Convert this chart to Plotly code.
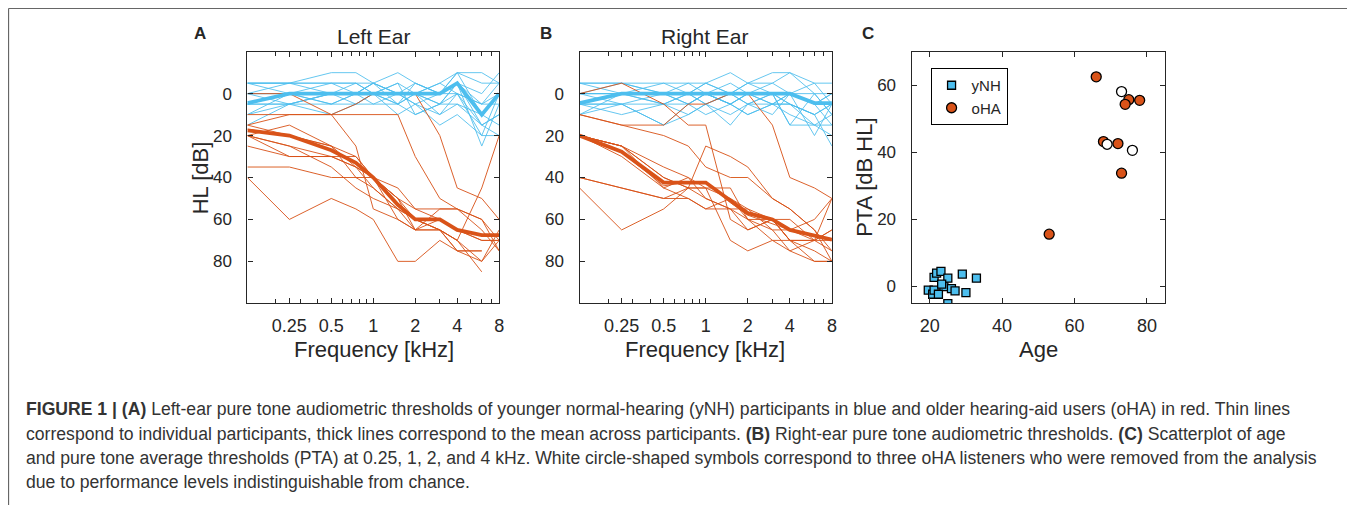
import math
import plotly.graph_objects as go

# page offset (browser body margin) compensation
OX, OY = 8, 8
W, H = 1355 - OX, 505 - OY

# ---------------- data ----------------
freqs = [0.125, 0.25, 0.5, 0.75, 1, 1.5, 2, 3, 4, 6, 8]

left_ynh = [
    [-5, -5, -10, -10, -5, 0, 0, -5, -10, -5, -5],
    [0, 0, 0, 0, -5, -10, -5, 0, -5, 0, -10],
    [5, 0, -5, -5, 0, -5, 0, 5, -5, 10, 0],
    [-5, -5, 0, 0, 0, 5, -5, 0, 0, 15, 10],
    [0, -5, -5, -5, 0, 0, 5, 10, 0, 20, 20],
    [5, 5, 5, 0, 0, 5, 0, 0, -5, 25, 5],
    [15, 5, 0, 0, -5, 0, 5, 15, 10, 20, 0],
    [10, 5, 10, 5, 0, 0, 0, 5, 5, 10, 15],
    [0, 0, 0, 0, 5, 0, -5, 0, -10, -10, -5],
    [-5, 0, 5, 0, -5, 5, 10, 5, 0, 5, 0],
    [5, 0, 0, 5, 0, 10, 5, 0, -5, 15, 10],
    [0, 5, 0, 0, 0, 0, 0, -5, 0, 5, 5],
    [10, 0, 5, 5, 5, 5, 0, 10, 5, 15, 20],
    [-5, -5, -5, 0, 0, -5, 10, 5, -5, 5, -5],
    [5, 5, 0, -5, -5, 0, 0, 0, -10, 10, 0],
]
left_oha = [
    [10, 10, 10, 10, 10, 10, 30, 50, 55, 60, 75],
    [15, 10, 10, 5, 0, 0, 0, 20, 45, 50, 60],
    [20, 15, 25, 40, 45, 55, 65, 55, 55, 60, 70],
    [20, 25, 35, 45, 50, 55, 60, 65, 70, 80, 65],
    [35, 35, 40, 40, 40, 45, 55, 60, 65, 70, 70],
    [40, 60, 50, 55, 60, 80, 80, 70, 75, 75, None],
    [17, 20, 25, 30, 40, 50, 60, 65, 70, 85, None],
    [25, 30, 30, 35, 45, 55, 60, 65, 70, 45, 20],
    [20, 30, 30, 35, 40, 60, 65, 60, 65, 70, 70],
    [15, 20, 25, 35, 40, 50, 55, 55, 55, 65, 75],
    [0, 0, 10, 25, 55, 60, 65, 65, 75, 80, 70],
    [20, 25, 30, 30, 40, 50, 65, 65, 75, 75, None],
]
left_ynh_mean = [4.5, 0, 0, 0, 0, 0, 0, 0, -5, 10, 0]
left_oha_mean = [17.5, 20, 27, 33, 40, 53, 60, 60, 65, 67.5, 67.5]

right_ynh = [
    [-5, -5, -5, 0, -5, -10, -5, -5, -10, -5, -5],
    [0, 0, -5, -5, 0, 0, -5, -10, -10, 0, 0],
    [5, 0, 0, 5, 0, 5, 0, 0, 5, 10, 5],
    [10, 5, 15, 10, 5, 0, 5, 0, 15, 0, 10],
    [5, 10, 5, 0, 5, 15, 5, 5, 0, 20, 5],
    [-5, -5, 0, 0, -5, 0, 0, 5, 5, 10, 25],
    [10, 0, 0, 5, 10, 5, 10, 5, 0, 5, 15],
    [0, 5, 5, 0, 0, -5, 0, 5, 5, 15, 20],
    [5, 5, 15, 5, 0, 5, 0, 0, 15, 15, 15],
    [0, -5, 0, 0, 5, 0, -5, 0, 0, 5, 0],
    [5, 0, 5, 5, 0, 5, 10, 5, 10, 15, 10],
    [0, 0, 0, -5, -5, 0, 0, 0, 5, 10, 5],
    [-5, 0, 5, 10, 5, 10, 5, 0, 0, -5, 5],
    [5, 5, 0, 0, 0, 0, 5, 10, 0, 5, 0],
    [0, 0, 0, 0, 0, 5, 0, -5, 0, 0, 10],
]
right_oha = [
    [0, -5, 5, 15, 15, 60, 65, 60, 70, 75, 80],
    [10, 15, 20, 25, 35, 40, 40, 50, 55, 65, 75],
    [10, 15, 15, 5, 5, 0, 0, 15, 40, 45, 50],
    [40, 45, 50, 45, 50, 55, 65, 60, 70, 70, 65],
    [45, 65, 55, 45, 25, 30, 35, 50, 55, 65, 80],
    [20, 25, 40, 45, 45, 50, 55, 60, 60, 70, 75],
    [20, 30, 45, 50, 55, 50, 60, 60, 70, 80, 80],
    [20, 25, 45, 40, 50, 55, 60, 70, 75, 70, 50],
    [20, 25, 40, 45, 45, 70, 75, 70, 70, 70, 65],
    [40, 45, 50, 50, 55, 55, 55, 65, 65, 60, 50],
    [20, 25, 35, 40, 45, 45, 60, 65, 75, 80, 80],
    [20, 28, 44, 42, 42, 52, 58, 62, 65, 70, 70],
]
right_ynh_mean = [4.5, 0, 0, 0, 0, 0, 0, 0, 0, 4.5, 4.5]
right_oha_mean = [20, 27.7, 42.4, 42.4, 42.4, 51, 57, 60, 65, 67.7, 69.6]

ynh_age = [19.6, 21.2, 20.8, 21.9, 23.1, 23.9, 25.0, 25.0, 26.0, 27.0, 29.0, 30.0, 32.9, 21.2, 22.4, 23.3]
ynh_pta = [-1.1, 2.7, -2.3, 4.0, 4.5, 0.0, 2.5, -5.1, -0.6, -1.3, 3.7, -1.8, 2.5, -1.1, -2.3, 0.7]
oha_age = [66, 78, 75, 74, 68, 72, 73, 53]
oha_pta = [62.5, 55.5, 55.7, 54.3, 43.2, 42.6, 33.8, 15.6]
removed_age = [73, 69, 76]
removed_pta = [58.1, 42.4, 40.6]

freq_ticks = [0.25, 0.5, 1, 2, 4, 8]
freq_ticklabels = ["0.25", "0.5", "1", "2", "4", "8"]
freq_minor = [0.2, 0.3, 0.4, 0.6, 0.7, 0.8, 0.9, 3, 5, 6, 7]
hl_ticks = [0, 20, 40, 60, 80]
age_ticks = [20, 40, 60, 80]
pta_ticks = [0, 20, 40, 60]

caption_lines = [
    "<b>FIGURE 1 | (A)</b> Left-ear pure tone audiometric thresholds of younger normal-hearing (yNH) participants in blue and older hearing-aid users (oHA) in red. Thin lines",
    "correspond to individual participants, thick lines correspond to the mean across participants. <b>(B)</b> Right-ear pure tone audiometric thresholds. <b>(C)</b> Scatterplot of age",
    "and pure tone average thresholds (PTA) at 0.25, 1, 2, and 4 kHz. White circle-shaped symbols correspond to three oHA listeners who were removed from the analysis",
    "due to performance levels indistinguishable from chance.",
]

# ---------------- style ----------------
BLUE = "#4DBEEE"
ORANGE = "#D95319"
AX = "#262626"
FONT = "Liberation Sans, Arial, Helvetica, sans-serif"


def px_x(x):
    return (x - OX) / W


def px_y(y):
    return 1 - (y - OY) / H


fig = go.Figure()

panels = [
    ("x", "y", left_ynh, left_oha, left_ynh_mean, left_oha_mean),
    ("x2", "y2", right_ynh, right_oha, right_ynh_mean, right_oha_mean),
]
for xa, ya, ynh, oha, ym, om in panels:
    for row in ynh:
        fig.add_trace(go.Scatter(x=freqs, y=row, mode="lines", xaxis=xa, yaxis=ya,
                                 line=dict(color=BLUE, width=1), opacity=0.85,
                                 showlegend=False, hoverinfo="skip"))
    for row in oha:
        fig.add_trace(go.Scatter(x=freqs, y=row, mode="lines", xaxis=xa, yaxis=ya,
                                 line=dict(color=ORANGE, width=1), opacity=0.9,
                                 showlegend=False, hoverinfo="skip", connectgaps=False))
    fig.add_trace(go.Scatter(x=freqs, y=om, mode="lines", xaxis=xa, yaxis=ya,
                             line=dict(color=ORANGE, width=3.8), showlegend=False))
    fig.add_trace(go.Scatter(x=freqs, y=ym, mode="lines", xaxis=xa, yaxis=ya,
                             line=dict(color=BLUE, width=3.8), showlegend=False))

fig.add_trace(go.Scatter(x=ynh_age, y=ynh_pta, mode="markers", xaxis="x3", yaxis="y3", name="yNH",
                         marker=dict(symbol="square", size=8, color=BLUE, line=dict(color="black", width=1.3))))
fig.add_trace(go.Scatter(x=oha_age, y=oha_pta, mode="markers", xaxis="x3", yaxis="y3", name="oHA",
                         marker=dict(symbol="circle", size=10, color=ORANGE, line=dict(color="black", width=1.3))))
fig.add_trace(go.Scatter(x=removed_age, y=removed_pta, mode="markers", xaxis="x3", yaxis="y3", showlegend=False,
                         marker=dict(symbol="circle", size=10, color="white", line=dict(color="black", width=1.3))))

common = dict(showline=True, linecolor=AX, linewidth=1.3, mirror="ticks", ticks="inside",
              ticklen=5, tickwidth=1, tickcolor=AX, showgrid=False, zeroline=False)
xfont = dict(family=FONT, size=18, color=AX)
yfont = dict(family=FONT, size=17, color=AX)

ydom = [px_y(303.3), px_y(51.7)]
xlog_range = [math.log10(0.125), math.log10(8)]
freq_axis = dict(common, type="log", range=xlog_range, tickvals=freq_ticks, ticktext=freq_ticklabels,
                 tickfont=xfont,
                 minor=dict(tickvals=freq_minor, ticks="inside", ticklen=4, tickcolor=AX), ticklabelstandoff=6)
hl_axis = dict(common, range=[100, -20], tickvals=hl_ticks, tickfont=yfont, ticklabelstandoff=11)

fig.update_layout(
    width=W, height=H, margin=dict(l=0, r=0, t=0, b=0),
    paper_bgcolor="white", plot_bgcolor="white",
    font=dict(family=FONT, color=AX),
    xaxis=dict(freq_axis, domain=[px_x(248.3), px_x(501)], anchor="y"),
    yaxis=dict(hl_axis, domain=ydom, anchor="x"),
    xaxis2=dict(freq_axis, domain=[px_x(581.7), px_x(835)], anchor="y2"),
    yaxis2=dict(hl_axis, domain=ydom, anchor="x2"),
    xaxis3=dict(common, range=[15, 85], tickvals=age_ticks, tickfont=xfont,
                domain=[px_x(915), px_x(1169.3)], anchor="y3", ticklabelstandoff=6),
    yaxis3=dict(common, range=[-5, 70], tickvals=pta_ticks, tickfont=yfont,
                domain=ydom, anchor="x3", ticklabelstandoff=11),
    legend=dict(x=px_x(934), y=px_y(68), xanchor="left", yanchor="top", bgcolor="white",
                bordercolor="black", borderwidth=1, font=dict(family=FONT, size=15, color=AX),
                itemwidth=30, tracegroupgap=0),
    showlegend=True,
)

ann = []


def text(x, y, s, size, bold=False, angle=0, xanchor="center", color=AX, family=FONT):
    ann.append(dict(x=px_x(x), y=px_y(y), xref="paper", yref="paper", text=("<b>%s</b>" % s) if bold else s,
                    showarrow=False, xanchor=xanchor, yanchor="middle", textangle=angle,
                    font=dict(family=family, size=size, color=color)))


text(201, 33, "A", 17, bold=True)
text(548, 33, "B", 17, bold=True)
text(871, 33, "C", 17, bold=True)
text(375, 36, "Left Ear", 21)
text(708, 36, "Right Ear", 21)
text(375, 349, "Frequency [kHz]", 22)
text(708, 349, "Frequency [kHz]", 22)
text(1042, 349, "Age", 22)
text(201, 178, "HL [dB]", 22, angle=-90)
text(867, 177, "PTA [dB HL]", 22, angle=-90)

cap_y = [409, 433.5, 458, 482]
for s, y in zip(caption_lines, cap_y):
    text(24, y, s, 17.6, xanchor="left", color="#333333")

fig.update_layout(annotations=ann)

fig.update_layout(shapes=[
    dict(type="line", xref="paper", yref="paper", x0=0.0004, x1=1, y0=0.999, y1=0.999,
         line=dict(color="#666666", width=1.2)),
    dict(type="line", xref="paper", yref="paper", x0=0.0004, x1=0.0004, y0=0.999, y1=0,
         line=dict(color="#666666", width=1.2)),
])

fig.write_html("out.html")
